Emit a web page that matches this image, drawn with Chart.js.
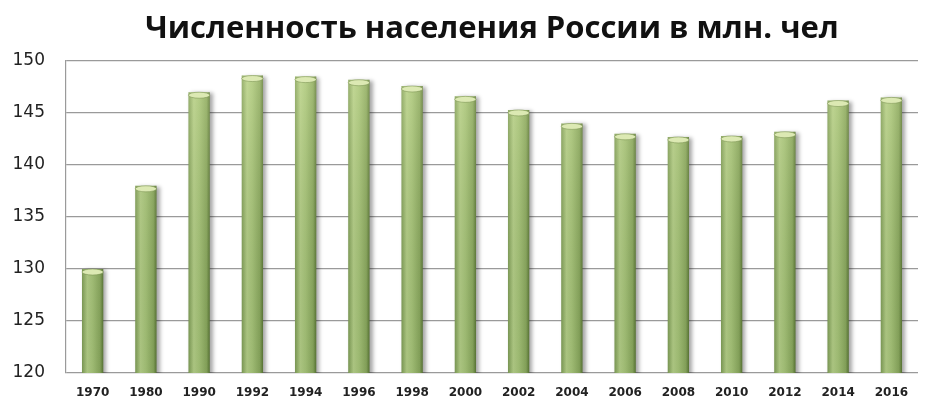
<!DOCTYPE html>
<html>
<head>
<meta charset="utf-8">
<script src="https://cdn.jsdelivr.net/npm/chart.js@4/dist/chart.umd.min.js"></script>
<style>
  html, body { margin: 0; padding: 0; background: #fff; }
  #wrap { width: 931px; height: 405px; }
</style>
</head>
<body>
<div id="wrap"><canvas id="GrafPob"></canvas></div>
<script>
// Данные
var years = ['1970', '1980', '1990', '1992', '1994', '1996', '1998', '2000',
             '2002', '2004', '2006', '2008', '2010', '2012', '2014', '2016'];
var population = [130.0, 138.0, 147.0, 148.6, 148.5, 148.2, 147.6, 146.6,
                  145.3, 144.0, 143.0, 142.7, 142.8, 143.2, 146.2, 146.5];
var yTicks = [120, 125, 130, 135, 140, 145, 150];
var titleText = 'Численность населения России в млн. чел';

// цилиндр: горизонтальный градиент по ширине столбика
function barGradient(context) {
    var chart = context.chart;
    var xs = chart.scales.x;
    if (!xs || !chart.chartArea) return '#a9c47c';
    var cx = xs.getPixelForValue(context.dataIndex);
    var w = (chart.chartArea.right - chart.chartArea.left) / years.length * 0.4;
    var g = chart.ctx.createLinearGradient(cx - w / 2, 0, cx + w / 2, 0);
    g.addColorStop(0, '#7f9c58');
    g.addColorStop(0.25, '#b6cf8a');
    g.addColorStop(0.5, '#a8c47b');
    g.addColorStop(0.85, '#8aa75f');
    g.addColorStop(1, '#5a7536');
    return g;
}

var cylinderPlugin = {
    id: 'cylinder',
    beforeDatasetsDraw: function (chart) {
        var ctx = chart.ctx;
        ctx.save();
        ctx.shadowColor = 'rgba(0,0,0,0.35)';
        ctx.shadowOffsetX = 3;
        ctx.shadowOffsetY = 1;
        ctx.shadowBlur = 4;
    },
    afterDatasetsDraw: function (chart) {
        var ctx = chart.ctx;
        ctx.restore();
        var area = chart.chartArea;
        var meta = chart.getDatasetMeta(0);
        ctx.save();
        meta.data.forEach(function (bar) {
            var w = bar.width;
            // светлее сверху, темнее снизу
            var vg = ctx.createLinearGradient(0, area.top, 0, area.bottom);
            vg.addColorStop(0, 'rgba(240,250,190,0.25)');
            vg.addColorStop(1, 'rgba(30,60,10,0.08)');
            ctx.fillStyle = vg;
            ctx.fillRect(bar.x - w / 2, bar.y, w, area.bottom - bar.y);
            // верхняя крышка
            ctx.beginPath();
            ctx.ellipse(bar.x, bar.y + 3, w / 2, 3, 0, 0, Math.PI * 2);
            ctx.fillStyle = '#dce9b3';
            ctx.fill();
            ctx.strokeStyle = 'rgba(110,135,70,0.6)';
            ctx.lineWidth = 0.8;
            ctx.stroke();
        });
        ctx.restore();
    },
    afterDraw: function (chart) {
        var ctx = chart.ctx;
        var area = chart.chartArea;
        ctx.save();
        ctx.font = 'bold 31px "Open Sans", "DejaVu Sans", sans-serif';
        ctx.fillStyle = '#111';
        ctx.textAlign = 'center';
        ctx.textBaseline = 'middle';
        ctx.fillText(titleText, (area.left + area.right) / 2, 29);
        ctx.restore();
    }
};

var ctxP = document.getElementById('GrafPob').getContext('2d');
var chart = new Chart(ctxP, {
    type: 'bar',
    data: {
        labels: years,
        datasets: [{
            label: titleText,
            data: population,
            backgroundColor: barGradient,
            borderWidth: 0,
            categoryPercentage: 1,
            barPercentage: 0.4
        }]
    },
    options: {
        responsive: true,
        maintainAspectRatio: false,
        animation: false,
        layout: { padding: { top: 61, left: 13, right: 13, bottom: 0 } },
        plugins: {
            legend: { display: false },
            tooltip: { enabled: false }
        },
        scales: {
            x: {
                grid: { display: false, drawTicks: false },
                border: { display: false },
                afterFit: function (axis) { axis.height = 32; },
                ticks: {
                    color: '#222',
                    padding: 13,
                    maxRotation: 0,
                    font: { family: 'DejaVu Sans', size: 12, weight: 'bold' }
                }
            },
            y: {
                min: 120,
                max: 150,
                afterBuildTicks: function (axis) {
                    axis.ticks = yTicks.map(function (v) { return { value: v }; });
                },
                afterFit: function (axis) { axis.width = 53; },
                grid: { color: '#9a9a9a', lineWidth: 1.2, drawTicks: false },
                border: { display: true, color: '#9a9a9a', width: 1.2 },
                ticks: {
                    color: '#222',
                    padding: 21,
                    font: { family: 'DejaVu Sans', size: 17 }
                }
            }
        }
    },
    plugins: [cylinderPlugin]
});
</script>
</body>
</html>
